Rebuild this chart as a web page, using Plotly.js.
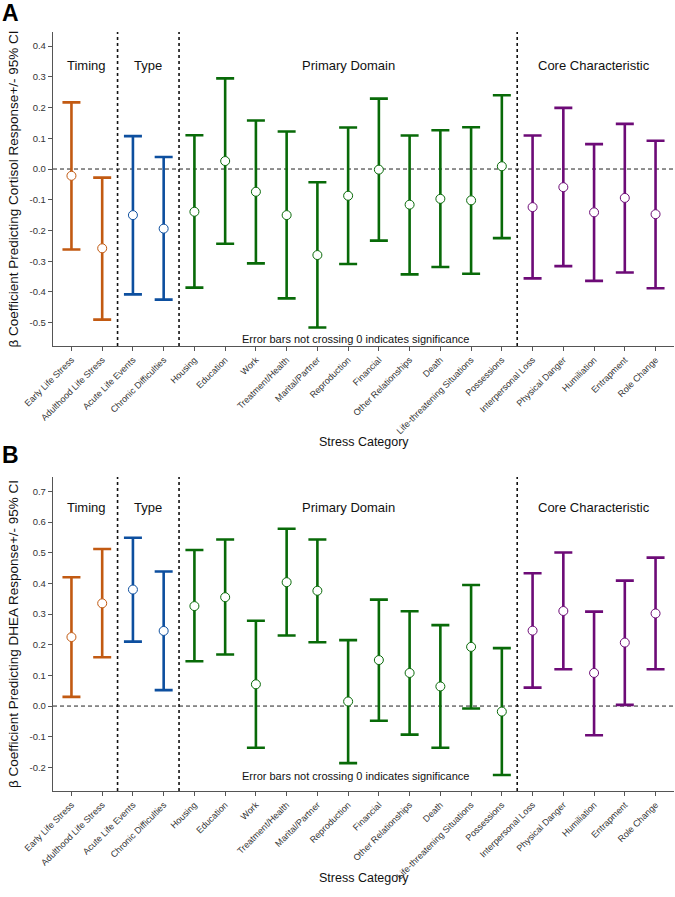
<!DOCTYPE html>
<html>
<head>
<meta charset="utf-8">
<script src="https://cdn.plot.ly/plotly-3.0.1.min.js"></script>
<style>body{margin:0;background:#fff}</style>
</head>
<body>
<div id="chart" style="width:675px;height:897px"></div>
<script>
// stress categories in plotting order, with their group index
const categories = [
    "Early Life Stress", "Adulthood Life Stress", "Acute Life Events", "Chronic Difficulties",
    "Housing", "Education", "Work", "Treatment/Health", "Marital/Partner", "Reproduction",
    "Financial", "Other Relationships", "Death", "Life-threatening Situations", "Possessions",
    "Interpersonal Loss", "Physical Danger", "Humiliation", "Entrapment", "Role Change"
];
const groupOf = [0, 0, 1, 1, 2, 2, 2, 2, 2, 2, 2, 2, 2, 2, 2, 3, 3, 3, 3, 3];
const groupNames = ["Timing", "Type", "Primary Domain", "Core Characteristic"];
const groupColors = ["#c25a12", "#0d4f9f", "#086a08", "#6d0b77"];
const groupCenters = [0.5, 2.5, 9, 17];
const dividers = [1.5, 3.5, 14.5];

// panel A: cortisol
const cortisolBeta = [-0.022, -0.258, -0.150, -0.194, -0.139, 0.026, -0.074, -0.150, -0.280, -0.087,
    -0.002, -0.116, -0.097, -0.102, 0.009, -0.124, -0.059, -0.141, -0.094, -0.147];
const cortisolLower = [-0.262, -0.490, -0.408, -0.425, -0.386, -0.243, -0.307, -0.421, -0.516, -0.309,
    -0.233, -0.343, -0.319, -0.341, -0.225, -0.356, -0.316, -0.364, -0.337, -0.388];
const cortisolUpper = [0.217, -0.028, 0.107, 0.039, 0.110, 0.295, 0.158, 0.122, -0.043, 0.135,
    0.229, 0.109, 0.126, 0.136, 0.240, 0.109, 0.199, 0.081, 0.147, 0.092];
const cortisolTicks = [-0.5, -0.4, -0.3, -0.2, -0.1, 0.0, 0.1, 0.2, 0.3, 0.4];

// panel B: DHEA
const dheaBeta = [0.225, 0.335, 0.380, 0.245, 0.326, 0.355, 0.071, 0.404, 0.376, 0.015,
    0.150, 0.108, 0.064, 0.193, -0.018, 0.246, 0.310, 0.108, 0.207, 0.302];
const dheaLower = [0.030, 0.159, 0.210, 0.052, 0.146, 0.168, -0.136, 0.230, 0.208, -0.186,
    -0.048, -0.093, -0.136, -0.008, -0.225, 0.060, 0.120, -0.095, 0.004, 0.120];
const dheaUpper = [0.420, 0.512, 0.549, 0.439, 0.509, 0.543, 0.278, 0.578, 0.543, 0.215,
    0.347, 0.309, 0.264, 0.395, 0.189, 0.433, 0.501, 0.308, 0.409, 0.484];
const dheaTicks = [-0.2, -0.1, 0.0, 0.1, 0.2, 0.3, 0.4, 0.5, 0.6, 0.7];

const FONT = "Liberation Sans, Arial, sans-serif";
const axisColor = "#555";
const H = 897;
const py = (pix) => (H - pix) / H; // pixel row -> paper y

const makeTraces = (beta, lower, upper, xa, ya) => {
    let traces = [];
    groupNames.forEach((name, g) => {
        const idx = categories.map((c, i) => i).filter((i) => groupOf[i] === g);
        traces.push({
            type: "scatter",
            mode: "markers",
            name: name,
            x: idx.map((i) => categories[i]),
            y: idx.map((i) => beta[i]),
            error_y: {
                type: "data",
                symmetric: false,
                array: idx.map((i) => upper[i] - beta[i]),
                arrayminus: idx.map((i) => beta[i] - lower[i]),
                color: groupColors[g],
                thickness: 2.6,
                width: 9
            },
            marker: { symbol: "circle", size: 9, color: "#fff", line: { color: groupColors[g], width: 1 } },
            xaxis: xa,
            yaxis: ya,
            showlegend: false,
            hoverinfo: "x+y"
        });
    });
    return traces;
};

const xAxis = (anchor) => ({
    anchor: anchor,
    domain: [0, 1],
    type: "category",
    categoryorder: "array",
    categoryarray: categories,
    range: [-0.6, 19.6],
    tickangle: -45,
    ticks: "outside",
    ticklen: 4,
    tickcolor: axisColor,
    showline: true,
    linecolor: axisColor,
    linewidth: 1.2,
    showgrid: false,
    zeroline: false,
    automargin: false,
    tickfont: { family: FONT, size: 9, color: "#333" },
    title: { text: "" }
});

const yAxis = (anchor, domain, range, ticks, title) => ({
    anchor: anchor,
    domain: domain,
    range: range,
    tickmode: "array",
    tickvals: ticks,
    ticktext: ticks.map((t) => t.toFixed(1)),
    ticks: "outside",
    ticklen: 4,
    tickcolor: axisColor,
    showline: true,
    linecolor: axisColor,
    linewidth: 1.2,
    showgrid: false,
    zeroline: false,
    automargin: false,
    tickfont: { family: FONT, size: 9.5, color: "#333" },
    title: { text: title, font: { family: FONT, size: 13.5, color: "#111" }, standoff: 7 }
});

// pixel rows for the text pieces
const groupLabelRow = [56, 507];
const noteRow = [339, 784];
const letterRow = [-2, 440];
const xTitleRow = [442, 887];

let shapes = [];
let annotations = [];
[["x", "y"], ["x2", "y2"]].forEach(([xa, ya], p) => {
    shapes.push({
        type: "line", layer: "below", xref: xa + " domain", yref: ya,
        x0: 0, x1: 1, y0: 0, y1: 0,
        line: { color: "#222", width: 1, dash: "4px,3px" }
    });
    dividers.forEach((d) => {
        shapes.push({
            type: "line", layer: "below", xref: xa, yref: ya + " domain",
            x0: d, x1: d, y0: 0, y1: 1,
            line: { color: "#111", width: 1.6, dash: "dot" }
        });
    });
    groupNames.forEach((name, g) => {
        annotations.push({
            text: name, xref: xa, yref: "paper", x: groupCenters[g], y: py(groupLabelRow[p]),
            showarrow: false, font: { family: FONT, size: 13, color: "#111" }
        });
    });
    annotations.push({
        text: "Error bars not crossing 0 indicates significance",
        xref: xa + " domain", yref: "paper", x: 0.487, y: py(noteRow[p]),
        showarrow: false, font: { family: FONT, size: 11, color: "#111" }
    });
    annotations.push({
        text: "Stress Category",
        xref: xa + " domain", yref: "paper", x: 0.5, y: py(xTitleRow[p]),
        showarrow: false, font: { family: FONT, size: 12.5, color: "#111" }
    });
    annotations.push({
        text: p === 0 ? "A" : "B", xref: "paper", yref: "paper",
        x: -53 / 621, y: py(letterRow[p]),
        xanchor: "left", yanchor: "top", showarrow: false,
        font: { family: FONT, size: 23, weight: "bold", color: "#000" }
    });
});

const data = [
    ...makeTraces(cortisolBeta, cortisolLower, cortisolUpper, "x", "y"),
    ...makeTraces(dheaBeta, dheaLower, dheaUpper, "x2", "y2")
];

const layout = {
    width: 675,
    height: H,
    margin: { l: 53, r: 1, t: 0, b: 0 },
    paper_bgcolor: "#fff",
    plot_bgcolor: "#fff",
    font: { family: FONT },
    xaxis: xAxis("y"),
    xaxis2: xAxis("y2"),
    yaxis: yAxis("x", [py(346), py(32)], [-0.576, 0.446], cortisolTicks,
        "β Coefficient Predicting Cortisol Response+/- 95% CI"),
    yaxis2: yAxis("x2", [py(791), py(477)], [-0.277, 0.747], dheaTicks,
        "β Coefficient Predicting DHEA Response+/- 95% CI"),
    shapes: shapes,
    annotations: annotations
};

Plotly.newPlot("chart", data, layout, { displayModeBar: false, staticPlot: true });
</script>
</body>
</html>
